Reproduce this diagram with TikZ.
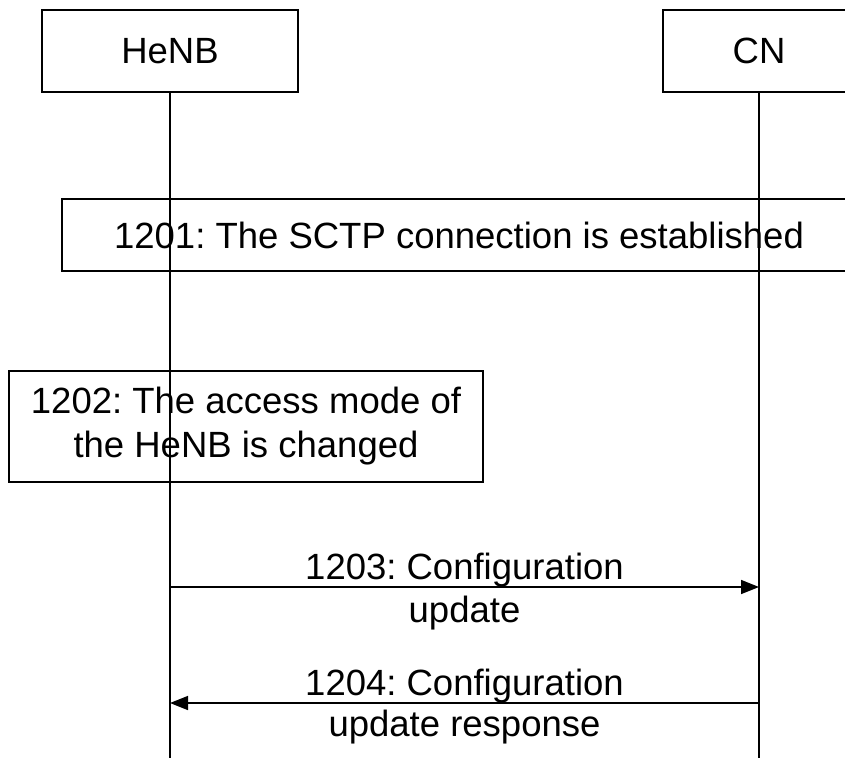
\documentclass[tikz,border=0pt]{standalone}
\usepackage{fontspec}
\setmainfont{Liberation Sans}
\usepackage{tikz}
\usetikzlibrary{arrows.meta}
\usetikzlibrary{positioning}
\frenchspacing
\tikzstyle{entite}=[
        draw,
        rectangle,
        line width=1.8pt,
        inner sep=0pt,
        font=\fontsize{36.5}{44}\selectfont
]
\tikzstyle{etape}=[rectangle,draw,line width=1.8pt,align=center,inner sep=0pt,font=\fontsize{36.5}{44}\selectfont]
\tikzstyle{vie}=[line width=1.6pt]
\tikzstyle{message}=[-{Triangle[length=18pt,width=14pt]},line width=1.6pt]
\tikzstyle{legende}=[anchor=base,inner sep=0pt,font=\fontsize{36.5}{44}\selectfont]

\begin{document}
\begin{tikzpicture}[x=1pt,y=-1pt]
\clip (0,0) rectangle (845,758);
\node[entite,minimum width=256pt,minimum height=82pt] (henb) at (170,51) {HeNB};
\node[entite,minimum width=192pt,minimum height=82pt] (cn) at (759,51) {CN};
\node[etape,minimum width=794pt,minimum height=72pt] (e1) at (459,235) {1201: The SCTP connection is established};
\node[etape,minimum width=474pt,minimum height=111pt] (e2) at (246,426.5) {1202: The access mode of\\the HeNB is changed};
\coordinate (hbas) at (170,758);
\coordinate (cbas) at (759,758);
\coordinate (h3) at (170,587);
\coordinate (c3) at (759,587);
\coordinate (h4) at (170,703);
\coordinate (c4) at (759,703);
%lignes de vie
\draw[vie] (henb) -- (hbas);
\draw[vie] (cn) -- (cbas);
%messages
\draw[message] (h3) -- (c3) node[legende,midway,yshift=7.5pt]{1203: Configuration} node[legende,midway,yshift=-35pt]{update};
\draw[message] (c4) -- (h4) node[legende,midway,yshift=7.5pt]{1204: Configuration} node[legende,midway,yshift=-33pt]{update response};
\end{tikzpicture}
\end{document}
